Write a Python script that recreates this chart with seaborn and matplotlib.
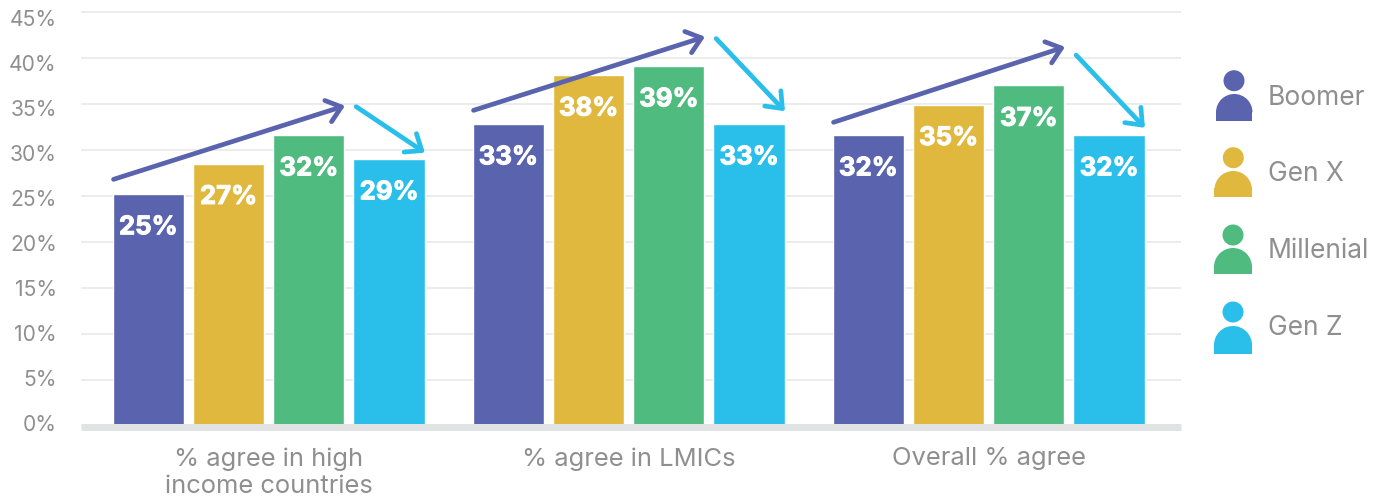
import matplotlib
matplotlib.use("Agg")
import matplotlib.pyplot as plt
import matplotlib.patheffects as pe
from matplotlib.patches import Circle, Wedge, Rectangle
import numpy as np
import pandas as pd
import seaborn as sns

categories = ["% agree in high\nincome countries", "% agree in LMICs", "Overall % agree"]
generations = ["Boomer", "Gen X", "Millenial", "Gen Z"]
boomer = [25.2, 32.8, 31.6]
gen_x = [28.5, 38.1, 34.9]
millenial = [31.6, 39.1, 37.0]
gen_z = [29.0, 32.8, 31.6]
boomer_labels = ["25%", "33%", "32%"]
gen_x_labels = ["27%", "38%", "35%"]
millenial_labels = ["32%", "39%", "37%"]
gen_z_labels = ["29%", "33%", "32%"]
tick_values = [0, 5, 10, 15, 20, 25, 30, 35, 40, 45]
rise_start = [26.8, 34.3, 33.0]
rise_end = [34.8, 42.3, 41.2]
fall_start = [34.7, 42.1, 40.3]
fall_end = [29.7, 34.2, 32.4]

colors = ["#5A64AE", "#E0B83E", "#4FBB7F", "#2ABFEA"]
TXT = "#8F8F8F"
FONT = "Inter"
W, H = 1382, 498

sns.set_theme(style="white")
plt.rcParams["font.family"] = [FONT, "DejaVu Sans"]

df = pd.DataFrame({
    "category": np.repeat(categories, 4),
    "generation": generations * 3,
    "value": np.array([boomer, gen_x, millenial, gen_z]).T.ravel(),
})

fig = plt.figure(figsize=(W / 100, H / 100), dpi=100)
L, R, T, B = 81, 1181, 10.5, 427
CX, ZERO = 268.7, 425.9
ax = fig.add_axes([L / W, 1 - B / H, (R - L) / W, (B - T) / H])
sns.barplot(data=df, x="category", y="value", hue="generation", order=categories,
            hue_order=generations, palette=colors, saturation=1, width=0.892, gap=0.112,
            legend=False, ax=ax, zorder=2)

ax.set_xlim((L - CX) / 360, (R - CX) / 360)
ax.set_ylim((ZERO - B) / 9.2, (ZERO - T) / 9.2)
ax.set_xlabel("")
ax.set_ylabel("")
ax.set_yticks(tick_values)
ax.set_yticklabels([])
ax.yaxis.grid(True, color="#ECECEC", linewidth=1.4, zorder=0)
ax.xaxis.grid(False)
ax.set_axisbelow(True)
ax.tick_params(axis="both", length=0)
ax.tick_params(axis="x", colors=TXT, labelsize=18.4, pad=14.7)
for lab in ax.get_xticklabels():
    lab.set_linespacing(1.24)
    lab.set_verticalalignment("top")
for s in ["left", "right", "top"]:
    ax.spines[s].set_visible(False)
ax.spines["bottom"].set_color("#E1E2E4")
ax.spines["bottom"].set_linewidth(7 * 0.72)
ax.spines["bottom"].set_capstyle("butt")
ax.spines["bottom"].set_zorder(5)

# tick labels sit on a slightly tighter scale than the gridlines
ax2 = ax.twinx()
ax2.set_ylim((422.7 - B) / 9.0, (422.7 - T) / 9.0)
ax2.set_yticks(tick_values)
ax2.set_yticklabels([f"{v}%" for v in tick_values])
ax2.yaxis.tick_left()
ax2.tick_params(axis="y", length=0, pad=17.4, colors=TXT, labelsize=15.2)
ax2.grid(False)
for s in ax2.spines.values():
    s.set_visible(False)

all_labels = [boomer_labels, gen_x_labels, millenial_labels, gen_z_labels]
for cont, labs in zip(ax.containers, all_labels):
    for bar, lab in zip(cont, labs):
        ax.annotate(lab, (bar.get_x() + bar.get_width() / 2, bar.get_height()),
                    xytext=(0, -24.3), textcoords="offset points", ha="center", va="center",
                    color="white", fontsize=18.5, fontweight="bold", zorder=6,
                    path_effects=[pe.withStroke(linewidth=0.7, foreground="white")])

head = "->,head_length=10,head_width=8"
for i in range(3):
    ax.annotate("", xy=(i + 0.212, rise_end[i]), xytext=(i - 0.431, rise_start[i]),
                arrowprops=dict(arrowstyle=head, mutation_scale=1,
                                color=colors[0], lw=3.4, shrinkA=0, shrinkB=0), zorder=7)
    ax.annotate("", xy=(i + 0.434, fall_end[i]), xytext=(i + 0.243, fall_start[i]),
                arrowprops=dict(arrowstyle=head, mutation_scale=1,
                                color=colors[3], lw=3.4, shrinkA=0, shrinkB=0), zorder=7)

# person-icon legend, laid out in pixels
lg = fig.add_axes([0, 0, 1, 1])
lg.set_xlim(0, W)
lg.set_ylim(H, 0)
lg.axis("off")
head_x = [1234, 1233.3, 1233, 1233]
head_y = [80.7, 157.7, 235, 312]
body_l = [1216, 1214.5, 1214, 1214]
body_r = [1252.5, 1252, 1252, 1252]
body_t = [94, 171, 248, 326]
body_b = [120.7, 197, 274, 354]
text_y = [96, 172, 249, 326]
for k, name in enumerate(generations):
    c = colors[k]
    lg.add_patch(Circle((head_x[k], head_y[k]), 10.5, color=c, lw=0))
    r = (body_r[k] - body_l[k]) / 2
    cx = (body_r[k] + body_l[k]) / 2
    lg.add_patch(Wedge((cx, body_t[k] + r), r, 180, 360, color=c, lw=0))
    lg.add_patch(Rectangle((body_l[k], body_t[k] + r - 1.5), 2 * r, body_b[k] - body_t[k] - r + 1.5,
                           color=c, lw=0))
    lg.text(1268, text_y[k] + 1.5, name, color=TXT, fontsize=19, ha="left", va="center")

fig.savefig("out.png", dpi=100)
